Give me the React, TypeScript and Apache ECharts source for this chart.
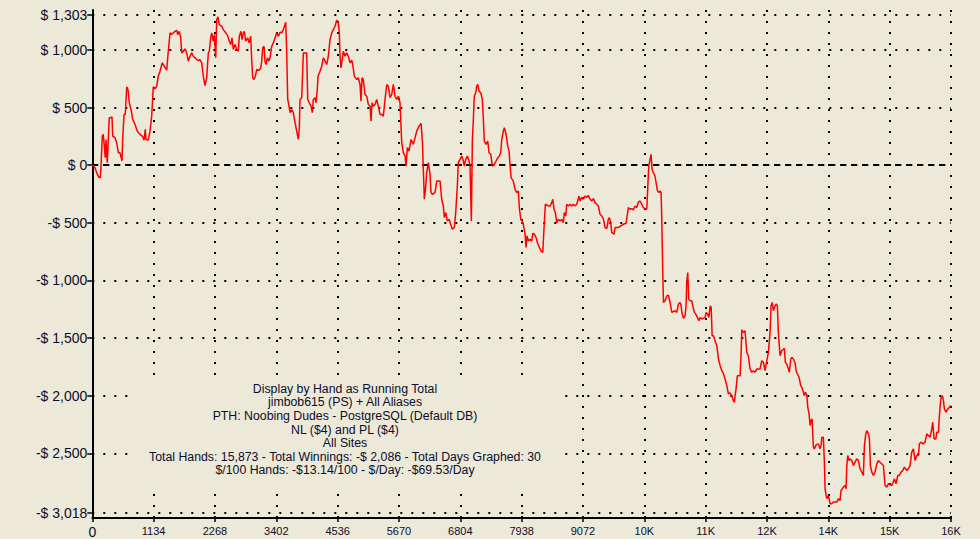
import React, { useEffect, useRef } from "react";
import * as echarts from "echarts";

// Running total: [hand number, winnings in $]
const runningTotal: [number, number][] = [
  [0, 0], [50, -22], [81, -65], [124, -108], [148, -108], [161, -8], [185, 252], [203, 267], [222, 165], [240, 65],
  [253, 223], [277, 22], [296, 223], [314, 411], [346, 411], [364, 420], [377, 252], [420, 238], [451, 195], [481, 108],
  [512, 108], [549, 36], [562, 223], [586, 440], [610, 440], [636, 680], [660, 656], [684, 541], [716, 483], [747, 397],
  [790, 353], [832, 295], [882, 267], [932, 247], [956, 217], [980, 310], [993, 223], [1035, 217], [1067, 295], [1098, 425],
  [1128, 680], [1159, 662], [1191, 685], [1220, 772], [1252, 815], [1294, 888], [1331, 858], [1376, 824], [1405, 988], [1437, 1148],
  [1468, 1133], [1498, 1148], [1529, 1161], [1561, 1170], [1579, 1133], [1609, 1161], [1635, 1104], [1653, 974], [1683, 988], [1714, 1009],
  [1745, 974], [1775, 902], [1806, 945], [1838, 974], [1868, 945], [1899, 931], [1930, 916], [1960, 908],
  [1991, 916], [2023, 888], [2052, 772], [2084, 691], [2115, 758], [2145, 974], [2163, 988], [2189, 1104], [2208, 1148], [2237, 1075],
  [2256, 1133], [2282, 931], [2300, 1263], [2324, 1286], [2348, 1219], [2393, 1205], [2422, 1176], [2467, 1148], [2503, 1124], [2533, 1075],
  [2559, 1046], [2583, 1104], [2607, 1003], [2639, 1046], [2670, 1003], [2700, 988], [2718, 1118], [2749, 1161], [2768, 1089], [2792, 1148],
  [2811, 1161], [2836, 1075], [2873, 1104], [2897, 1061], [2929, 1118], [2947, 916], [2966, 758], [2990, 743], [3014, 772], [3040, 830],
  [3082, 821], [3114, 844], [3132, 902], [3151, 1018], [3175, 1031], [3193, 902], [3212, 873], [3236, 931], [3267, 902], [3291, 945],
  [3317, 1031], [3347, 1061], [3378, 1104], [3410, 1148], [3440, 1118], [3471, 1153], [3502, 1148], [3532, 1176], [3576, 1239], [3594, 988],
  [3613, 570], [3637, 512], [3656, 455], [3687, 483], [3717, 455], [3748, 368], [3779, 295], [3809, 223], [3828, 325], [3840, 570],
  [3872, 585], [3902, 974], [3964, 974], [3983, 570], [4012, 541], [4044, 512], [4068, 455], [4086, 570], [4118, 585], [4136, 541],
  [4160, 656], [4173, 772], [4210, 815], [4242, 858], [4271, 931], [4303, 902], [4334, 873], [4364, 945], [4395, 1089], [4427, 1148],
  [4456, 1176], [4488, 1205], [4519, 1257], [4549, 1234], [4567, 1148], [4580, 945], [4599, 844], [4617, 902], [4641, 988], [4673, 945],
  [4704, 974], [4733, 945], [4765, 888], [4796, 910], [4815, 873], [4844, 772], [4889, 743], [4918, 758], [4950, 700], [4968, 555],
  [4987, 758], [5011, 743], [5042, 613], [5074, 598], [5103, 527], [5135, 512], [5153, 382], [5172, 541], [5196, 512], [5227, 527],
  [5259, 570], [5288, 512], [5320, 440], [5351, 440], [5381, 425], [5412, 570], [5444, 700], [5473, 685], [5505, 585], [5536, 613],
  [5566, 700], [5597, 598], [5628, 570], [5660, 598], [5689, 541],
  [5721, 195], [5751, 108], [5782, 79], [5800, -8], [5825, 152], [5856, 122], [5893, 223], [5935, 180], [5967, 238], [5998, 295],
  [6041, 339], [6078, 362], [6103, 209], [6120, -36], [6139, -296], [6157, -224], [6183, -65], [6213, 22], [6244, -80], [6263, -238],
  [6287, -253], [6337, -238], [6368, -138], [6429, -138], [6460, -296], [6490, -354], [6509, -455], [6534, -411], [6564, -484], [6595, -469],
  [6627, -513], [6656, -556], [6693, -541], [6719, -411], [6749, -181], [6767, 22], [6799, 50], [6830, 79], [6860, 36], [6878, -8],
  [6904, 50], [6934, 79], [6965, 36], [6984, -8], [6997, -268], [7008, -484], [7027, 223], [7045, 397], [7063, 598], [7089, 628],
  [7108, 685], [7126, 700], [7150, 642], [7182, 628], [7211, 570], [7230, 397], [7248, 209], [7280, 180], [7311, 209], [7335, 108],
  [7367, 94], [7397, -8], [7433, 7], [7465, 36], [7496, 65], [7526, 79], [7551, 108], [7570, 223], [7600, 295], [7618, 325],
  [7650, 267], [7681, 165], [7705, 122], [7723, 7], [7742, -108], [7784, -138], [7816, -210], [7847, -238], [7877, -224], [7895, -368],
  [7921, -469], [7945, -484], [7969, -513], [8001, -599], [8019, -714], [8038, -614], [8062, -657], [8093, -643], [8125, -657], [8143, -591],
  [8173, -599], [8204, -628], [8228, -671], [8265, -714], [8297, -744], [8328, -758], [8352, -541], [8376, -339], [8432, -354], [8463, -354],
  [8494, -325], [8513, -296], [8537, -383], [8561, -411], [8587, -498], [8616, -469], [8648, -484], [8679, -469], [8709, -498], [8727, -411],
  [8753, -441], [8771, -339], [8801, -354], [8833, -339], [8864, -354], [8894, -339], [8925, -354], [8957, -339], [8999, -268], [9018, -311],
  [9049, -281], [9079, -296], [9110, -268], [9142, -281], [9171, -262], [9203, -296], [9234, -311], [9264, -290], [9295, -325], [9327, -339],
  [9356, -354],
  [9387, -426], [9419, -441], [9450, -469], [9480, -541], [9512, -550], [9541, -469], [9560, -455], [9586, -498], [9604, -585], [9647, -599],
  [9665, -541], [9727, -541], [9770, -527], [9820, -513], [9868, -504], [9893, -426], [9911, -368], [9944, -383], [9973, -377], [10003, -389],
  [10035, -354], [10066, -368], [10096, -320], [10127, -311], [10158, -339], [10189, -368], [10220, -377], [10251, -383], [10270, -195], [10288, -8],
  [10312, 50], [10331, 94], [10349, -36], [10373, -65], [10404, -94], [10423, -152], [10449, -224], [10479, -238], [10497, -224], [10516, -238],
  [10528, -455], [10547, -931], [10560, -1191], [10590, -1177], [10621, -1134], [10652, -1128], [10682, -1191], [10714, -1277], [10775, -1263], [10806, -1277],
  [10837, -1205], [10868, -1191], [10887, -1220], [10900, -1277], [10930, -1329], [10959, -1307], [10978, -1220], [10990, -1018], [11009, -931], [11027, -1162],
  [11052, -1177], [11083, -1177], [11101, -1220], [11132, -1277], [11157, -1292], [11188, -1321], [11214, -1350], [11238, -1321], [11270, -1335], [11331, -1321],
  [11349, -1277], [11374, -1292], [11399, -1321], [11424, -1220], [11442, -1234], [11460, -1480], [11485, -1480], [11504, -1509], [11522, -1537], [11547, -1567],
  [11577, -1682], [11608, -1740], [11640, -1783], [11670, -1812], [11699, -1855], [11731, -1913], [11760, -1985], [11791, -1976], [11823, -2000], [11852, -2043],
  [11871, -2057], [11884, -2000], [11902, -1942], [11926, -1826], [11977, -1826], [11996, -1624], [12008, -1428], [12037, -1451], [12068, -1437], [12100, -1624],
  [12129, -1653], [12161, -1768], [12192, -1797], [12222, -1783], [12253, -1797], [12285, -1768], [12346, -1768], [12377, -1697], [12407, -1710], [12438, -1783],
  [12470, -1697], [12499, -1624], [12531, -1451], [12549, -1220], [12573, -1191], [12592, -1263], [12623, -1220], [12642, -1205], [12666, -1220], [12684, -1451],
  [12715, -1653],
  [12746, -1610], [12795, -1589], [12813, -1710], [12839, -1725], [12869, -1768], [12887, -1797], [12914, -1682], [12932, -1667], [12962, -1682], [12993, -1716],
  [13012, -1783], [13036, -1812], [13067, -1840], [13098, -1913], [13117, -1927], [13147, -1970], [13165, -2000], [13184, -1970], [13210, -1994], [13228, -2100],
  [13252, -2158], [13271, -2259], [13289, -2216], [13308, -2201], [13320, -2331], [13332, -2447], [13350, -2461], [13382, -2427], [13424, -2418], [13456, -2461],
  [13474, -2433], [13487, -2360], [13516, -2360], [13535, -2576], [13548, -2808], [13579, -2894], [13609, -2866], [13640, -2937], [13671, -2937], [13702, -2923],
  [13764, -2923], [13794, -2894], [13825, -2909], [13843, -2822], [13886, -2793], [13917, -2779], [13936, -2808], [13948, -2620], [13967, -2519], [13991, -2563],
  [14010, -2548], [14041, -2563], [14071, -2606], [14102, -2577], [14134, -2548], [14164, -2563], [14195, -2634], [14227, -2663], [14256, -2692], [14275, -2433],
  [14301, -2331], [14319, -2303], [14349, -2331], [14368, -2375], [14386, -2606], [14412, -2663], [14441, -2692], [14472, -2663], [14504, -2591], [14533, -2563],
  [14564, -2577], [14626, -2606], [14657, -2779], [14688, -2793], [14718, -2764], [14780, -2779], [14810, -2750], [14829, -2721], [14860, -2764], [14892, -2692],
  [14921, -2692], [14953, -2663], [14984, -2649], [15014, -2620], [15058, -2649], [15088, -2634], [15119, -2606], [15150, -2490], [15181, -2461], [15212, -2563],
  [15243, -2519], [15273, -2519], [15292, -2418], [15318, -2403], [15355, -2418], [15397, -2403], [15428, -2331], [15490, -2360], [15521, -2288], [15539, -2230],
  [15563, -2375], [15595, -2375], [15613, -2317], [15643, -2317], [15662, -2173], [15687, -2028], [15717, -2000], [15736, -2043], [15754, -2115], [15785, -2143],
  [15816, -2115], [15873, -2086],
];

const xTickStep = 1134;
const xMax = 15876;
const xTickLabels = ["0", "1134", "2268", "3402", "4536", "5670", "6804", "7938", "9072", "10K", "11K", "12K", "14K", "15K", "16K"];
const yTickValues = [1303, 1000, 500, 0, -500, -1000, -1500, -2000, -2500, -3018];

const infoLines = [
  "Display by Hand as Running Total",
  "jimbob615 (PS) + All Aliases",
  "PTH: Noobing Dudes - PostgreSQL (Default DB)",
  "NL ($4) and PL ($4)",
  "All Sites",
  "Total Hands: 15,873 - Total Winnings: -$ 2,086 - Total Days Graphed: 30",
  "$/100 Hands: -$13.14/100 - $/Day: -$69.53/Day",
];

const fmtMoney = (v: number) => {
  const s = Math.abs(v).toLocaleString("en-US");
  return v < 0 ? "-$ " + s : "$ " + s;
};

const FONT = "'Liberation Sans', Arial, sans-serif";
const TEXT = "#0c0c2c";
const BG = "#ECE9D8";

export default function App() {
  const ref = useRef<HTMLDivElement>(null);
  useEffect(() => {
    if (!ref.current) return;
    const chart = echarts.init(ref.current, null, { renderer: "svg" });
    const dotted = { color: "#000", type: [2, 9] as number[], width: 2 };
    chart.setOption({
      animation: false,
      backgroundColor: BG,
      grid: { left: 92.3, right: 29, top: 10, bottom: 20 },
      xAxis: {
        type: "value",
        min: 0,
        max: xMax,
        interval: xTickStep,
        axisLine: { show: true, onZero: false, lineStyle: { color: "#000", width: 2 } },
        axisTick: { show: true, length: 4, lineStyle: { color: "#000", width: 1.5 } },
        axisLabel: {
          color: TEXT,
          fontFamily: FONT,
          fontSize: 11,
          margin: 7,
          formatter: (v: number) => {
            const i = Math.round(v / xTickStep);
            return i === 0 ? "{z|" + xTickLabels[0] + "}" : xTickLabels[i] ?? "";
          },
          rich: { z: { fontSize: 14, fontFamily: FONT, color: TEXT, padding: [0, 0, 6, 0] } },
        },
        splitLine: { show: true, lineStyle: dotted },
      },
      yAxis: {
        type: "value",
        min: -3061,
        max: 1346,
        axisLine: { show: true, lineStyle: { color: "#000", width: 2 } },
        axisTick: { show: true, length: 5, customValues: yTickValues, lineStyle: { color: "#000", width: 1.5 } },
        axisLabel: {
          color: TEXT,
          fontFamily: FONT,
          fontSize: 14,
          margin: 5,
          customValues: yTickValues,
          formatter: (v: number) => fmtMoney(v),
        },
        splitLine: { show: true, lineStyle: dotted },
      },
      graphic: [
        {
          type: "rect",
          shape: { x: 129, y: 378, width: 432, height: 108 },
          style: { fill: BG },
          silent: true,
          z: 1,
        },
        {
          type: "text",
          x: 345,
          y: 382,
          style: {
            text: infoLines.join("\n"),
            textAlign: "center",
            textVerticalAlign: "top",
            fill: TEXT,
            font: "12.3px " + FONT,
            lineHeight: 13.6,
          },
          silent: true,
          z: 10,
        },
      ],
      series: [
        {
          type: "line",
          data: runningTotal,
          showSymbol: false,
          symbol: "none",
          lineStyle: { color: "#ff0000", width: 1.5 },
          z: 3,
          markLine: {
            silent: true,
            symbol: ["none", "none"],
            label: { show: false },
            lineStyle: { color: "#000", type: [6, 5], width: 2 },
            data: [{ yAxis: 0 }],
            z: 2,
          },
        },
      ],
    });
    return () => chart.dispose();
  }, []);
  return <div ref={ref} style={{ position: "fixed", left: 0, top: 0, width: 980, height: 539 }} />;
}
